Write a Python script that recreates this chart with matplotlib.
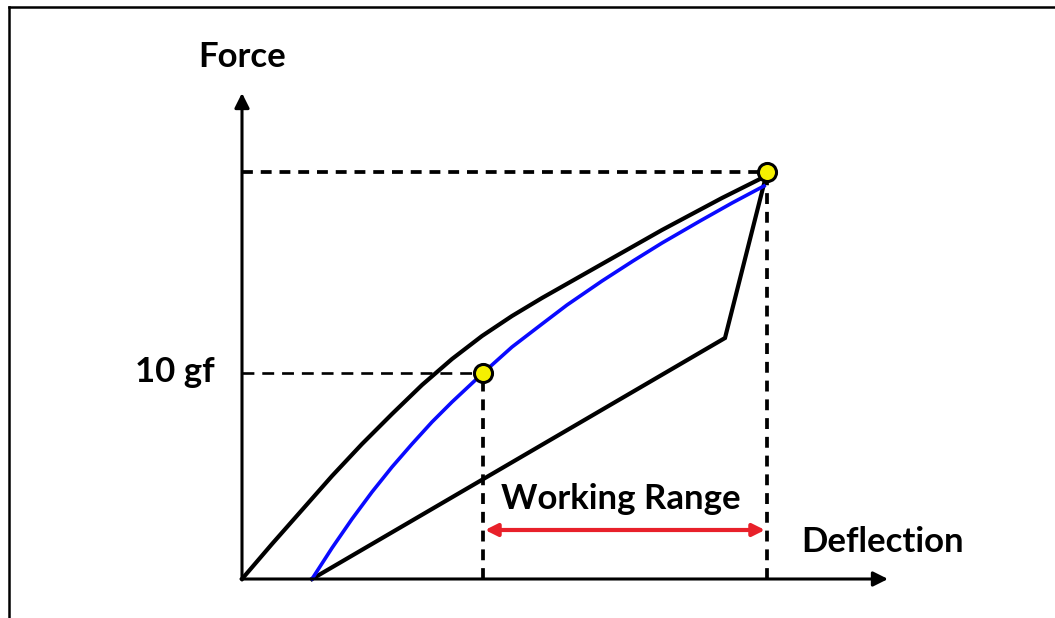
import matplotlib.pyplot as plt
from matplotlib.lines import Line2D

# Curve data (deflection, force), arbitrary units
upper_x = [0, 30, 60, 90, 120, 150, 180, 210, 240, 270, 300, 330, 360, 390, 420, 450, 480, 510, 522]
upper_y = [0, 35, 69, 103, 135, 165, 194, 220, 243, 263, 281, 298, 315, 332, 349, 365, 381, 396, 402]

blue_x = [70, 90, 110, 130, 150, 170, 190, 210, 241, 270, 300, 325, 360, 391, 420, 458, 490, 522]
blue_y = [0, 31, 60, 87, 112, 135, 157, 177, 206, 232, 255, 274, 298, 318, 336, 358, 376, 393]

lower_x = [70, 483, 525]
lower_y = [0, 241, 407]

# key points: 10 gf point and max point
pts_x = [241, 525]
pts_y = [206, 407]

x_axis_end = 646
y_axis_end = 486
range_y = 49

fig = plt.figure(figsize=(10.55, 6.18), dpi=100)
ax = fig.add_axes([0, 0, 1, 1])
ax.set_xlim(-242, 813)
ax.set_ylim(-39, 579)
ax.axis('off')

# frame lines (top and left only)
fig.add_artist(Line2D([9 / 1055, 1.0], [1 - 7 / 618, 1 - 7 / 618], color='black', lw=1.8))
fig.add_artist(Line2D([9 / 1055, 9 / 1055], [0.0, 1 - 7 / 618], color='black', lw=1.8))

# axes with arrows
ax.annotate('', xy=(x_axis_end, 0), xytext=(-1, 0),
            arrowprops=dict(arrowstyle='-|>', lw=2.2, color='black', mutation_scale=22, shrinkA=0, shrinkB=0))
ax.annotate('', xy=(0, y_axis_end), xytext=(0, -1),
            arrowprops=dict(arrowstyle='-|>', lw=2.2, color='black', mutation_scale=22, shrinkA=0, shrinkB=0))

# dashed guides
dash = dict(color='black', lw=2.7, ls=(0, (2.9, 2.1)))
ax.plot([0, pts_x[1]], [pts_y[1], pts_y[1]], **dash)
ax.plot([pts_x[1], pts_x[1]], [0, pts_y[1]], **dash)
ax.plot([0, pts_x[0]], [pts_y[0], pts_y[0]], color='black', lw=1.9, ls=(0, (4.5, 3)))
ax.plot([pts_x[0], pts_x[0]], [0, pts_y[0]], **dash)

# curves
ax.plot(upper_x, upper_y, color='black', lw=3, solid_capstyle='round', solid_joinstyle='round')
ax.plot(lower_x, lower_y, color='black', lw=3, solid_joinstyle='miter')
ax.plot(blue_x, blue_y, color='#0a0aff', lw=2.6, solid_joinstyle='round')

ax.plot(pts_x, pts_y, 'o', ms=13, mfc='#f5f000', mec='black', mew=2.2, zorder=5)

# working range arrow
ax.annotate('', xy=(pts_x[1] - 2, range_y), xytext=(pts_x[0] + 2, range_y),
            arrowprops=dict(arrowstyle='<|-|>', lw=3, color='#e8202a', mutation_scale=18, shrinkA=0, shrinkB=0))

font = dict(family='Lato', fontweight='bold', fontsize=25, color='black')
ax.text(0, 522, 'Force', ha='center', va='center', **font)
ax.text(-27, 207, '10 gf', ha='right', va='center', **font)
ax.text(379, 80, 'Working Range', ha='center', va='center', **font)
ax.text(641, 37, 'Deflection', ha='center', va='center', **font)

plt.savefig('out.png', dpi=100)
